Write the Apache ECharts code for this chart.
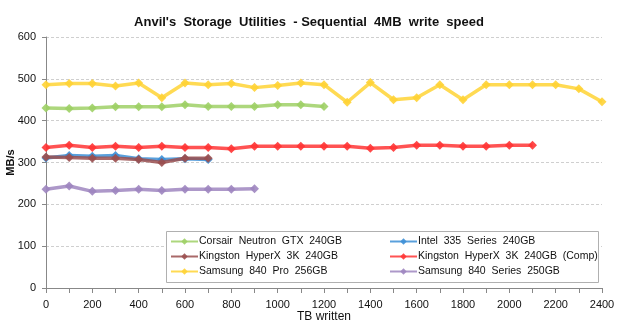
<!DOCTYPE html>
<html><head><meta charset="utf-8">
<script src="https://cdn.jsdelivr.net/npm/echarts@6/dist/echarts.min.js"></script>
<style>html,body{margin:0;padding:0;background:#fff}#c{width:618px;height:326px}</style>
</head><body><div id="c"></div>
<script>
var tbWritten = [0,100,200,300,400,500,600,700,800,900,1000,1100,1200,1300,1400,1500,1600,1700,1800,1900,2000,2100,2200,2300,2400];
var xTickLabels = ['0','200','400','600','800','1000','1200','1400','1600','1800','2000','2200','2400'];
var seriesNames = ['Corsair  Neutron  GTX  240GB','Intel  335  Series  240GB','Kingston  HyperX  3K  240GB','Kingston  HyperX  3K  240GB  (Comp)','Samsung  840  Pro  256GB','Samsung  840  Series  250GB'];
var corsair = [430,429,430,433,433,433,438,434,434,434,438,438,434];
var intel = [311,317,315,317,309,307,309,307];
var kingston = [313,312,310,310,307,300,310,310];
var kingstonComp = [336,341,336,339,336,339,336,336,333,339,339,339,339,339,334,336,341,341,339,339,341,341];
var samsungPro = [486,489,489,483,490,455,490,486,489,479,484,490,486,444,491,450,455,486,450,486,486,486,486,476,445];
var samsung840 = [236,244,231,233,236,233,236,236,236,237];
var colors = ['#9fd066','#3d8fd6','#9a4f4f','#ff3535','#ffd335','#9f86c0'];
var values = [corsair,intel,kingston,kingstonComp,samsungPro,samsung840];

var FONT = 'Liberation Sans';
function pairs(v){ return v.map(function(y,i){ return [tbWritten[i], y]; }); }
var series = [0,1,2,3,4,5].map(function(i){
  return {
    name: seriesNames[i], type:'line', data: pairs(values[i]),
    symbol:'diamond', symbolSize:9, showSymbol:true,
    lineStyle:{width:3.5, color:colors[i], opacity:0.85},
    itemStyle:{color:colors[i], opacity:0.9},
    emphasis:{disabled:true}, animation:false, z: 2
  };
});
series[2].z = 3;

var chart = echarts.init(document.getElementById('c'), null, {renderer:'canvas'});
var legendCommon = {
  orient:'vertical', itemWidth:27, itemHeight:8, itemGap:4,
  textStyle:{fontFamily:FONT, fontSize:10.5, color:'#111', padding:[0,0,0,-4]},
  padding:0, selectedMode:false
};
chart.setOption({
  animation:false,
  textStyle:{fontFamily:FONT},
  title:{text:"Anvil's  Storage  Utilities  - Sequential  4MB  write  speed", left:'center', top:11,
    textStyle:{fontFamily:FONT, fontSize:13, fontWeight:'bold', color:'#111'}},
  grid:{left:46, right:16, top:37, bottom:38, containLabel:false, outerBoundsMode:'none'},
  graphic:[{type:'rect', shape:{x:166.5, y:231.5, width:432, height:51}, style:{fill:'#fff', stroke:'#b0b0b0', lineWidth:1}, z:5}],
  legend:[
    Object.assign({data:[seriesNames[0],seriesNames[2],seriesNames[4]], left:170, top:236, z:10}, legendCommon),
    Object.assign({data:[seriesNames[1],seriesNames[3],seriesNames[5]], left:389, top:236, z:10}, legendCommon)
  ],
  xAxis:{type:'value', min:0, max:2400, interval:100,
    name:'TB written', nameLocation:'middle', nameGap:23, nameMoveOverlap:false,
    nameTextStyle:{fontFamily:FONT, fontSize:12, color:'#111'},
    axisLine:{show:true, lineStyle:{color:'#888', width:1}},
    axisTick:{show:true, length:5, lineStyle:{color:'#888'}},
    splitLine:{show:false},
    axisLabel:{fontFamily:FONT, fontSize:11, color:'#111', margin:11,
      formatter:function(v){ return xTickLabels.indexOf(String(v))>=0 ? String(v) : ''; }}
  },
  yAxis:{type:'value', min:0, max:600, interval:100,
    name:'MB/s', nameLocation:'middle', nameGap:30, nameMoveOverlap:false,
    nameTextStyle:{fontFamily:FONT, fontSize:11, fontWeight:'bold', color:'#111'},
    axisLine:{show:true, lineStyle:{color:'#888', width:1}},
    axisTick:{show:true, length:4, lineStyle:{color:'#888'}},
    splitLine:{show:true, lineStyle:{color:'#cfcfcf', type:[3,2], width:1}},
    axisLabel:{fontFamily:FONT, fontSize:11, color:'#111', margin:10}
  },
  series:series
});
</script></body></html>
